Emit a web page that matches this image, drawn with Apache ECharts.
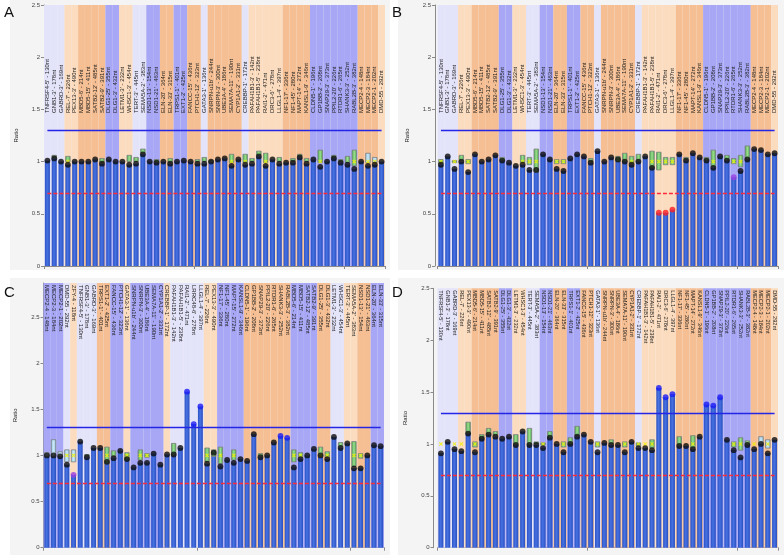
<!DOCTYPE html>
<html><head><meta charset="utf-8">
<script src="https://cdn.jsdelivr.net/npm/echarts@6/dist/echarts.min.js"></script>
<style>html,body{margin:0;padding:0;background:#fff}#c{width:784px;height:555px}</style>
</head><body><div id="c"></div>
<script>
// ---------- categories ----------
const LABELS_ABD = ["TNFRSF4-5' - 130nt","GNB1-3' - 178nt","GABRD-3' - 169nt","REL-7' - 226nt","PEX13-3' - 490nt","MBD5-6' - 214nt","MBD5-15' - 411nt","SATB2-12' - 485nt","SATB2-9' - 391nt","DLG1-25' - 355nt","DLG1-3' - 432nt","LETM1-3' - 232nt","WHSC1-3' - 454nt","TERT-3' - 445nt","SEMA5A-2' - 383nt","NSD1-13' - 154nt","NSD1-21' - 463nt","ELN-20' - 364nt","ELN-33' - 315nt","TRPS1-1' - 401nt","EXT1-2' - 425nt","FANCC-15' - 436nt","PTCH1-12' - 323nt","GATA3-1' - 136nt","SNRPN-u1b' - 244nt","SNRPN-3' - 300nt","UBE3A-4' - 186nt","SEMA7A-11' - 190nt","CYP1A1-2' - 331nt","CREBBP-1' - 172nt","PAFAH1B1-3' - 142nt","PAFAH1B1-5' - 238nt","RAI1-2' - 471nt","DRC3-6' - 278nt","LLGL1-4' - 397nt","NF1-17' - 336nt","NF1-45' - 280nt","MAPT-14' - 272nt","KANSL1-9' - 346nt","CLDN5-1' - 196nt","GP1BB-2' - 208nt","SNAP29-3' - 373nt","PPIL2-20' - 226nt","RTDR1-6' - 265nt","SHANK3-3' - 252nt","RABL2B-3' - 382nt","MECP2-4 - 148nt","MECP2-3 - 184nt","MECP2-1 - 202nt","DMD-55 - 292nt"];
const LABELS_C = ["MECP2-4 - 148nt","MECP2-3 - 184nt","MECP2-1 - 202nt","DMD-55 - 292nt","ZFY-4 - 118nt","TNFRSF4-5' - 130nt","GNB1-3' - 178nt","GABRD-3' - 169nt","TRPS1-1' - 401nt","EXT1-2' - 425nt","FANCC-15' - 436nt","PTCH1-12' - 323nt","GATA3-1' - 136nt","SNRPN-u1b' - 244nt","SNRPN-3' - 300nt","UBE3A-4' - 186nt","SEMA7A-11' - 190nt","CYP1A1-2' - 331nt","CREBBP-1' - 172nt","PAFAH1B1-3' - 142nt","PAFAH1B1-5' - 238nt","RAI1-2' - 471nt","LRRC48-6' - 278nt","LLGL1-4' - 397nt","REL-7' - 226nt","PEX13-3' - 490nt","NF1-17' - 336nt","NF1-45' - 280nt","MAPT-15' - 272nt","KANSL1-9' - 346nt","CLDN5-1' - 196nt","GP1BB-2' - 208nt","SNAP29-3' - 373nt","PPIL2-20' - 226nt","RTDR1-6' - 265nt","SHANK3-3' - 252nt","RABL2B-3' - 382nt","MBD5-6' - 214nt","MBD5-15' - 411nt","SATB2-12' - 485nt","SATB2-9' - 391nt","DLG1-25' - 355nt","DLG1-3' - 432nt","LETM1-3' - 232nt","WHSC1-3' - 454nt","TERT-3' - 445nt","SEMA5A-2' - 383nt","NSD1-13' - 154nt","NSD1-21' - 463nt","ELN-20' - 364nt","ELN-33' - 315nt"];
// band groups: l = lavender, q = light peach, p = peach, b = blue
const BANDS_ABD = ['l','l','l','q','q','p','p','p','p','b','b','q','q','l','l','b','b','p','p','b','b','p','p','l','p','p','p','p','p','l','q','q','q','q','q','p','p','p','p','b','b','b','b','b','b','b','p','p','p','q'];
const BANDS_C = ['b','b','b','l','q','l','l','l','p','p','b','b','q','b','b','b','b','b','q','l','l','l','l','l','q','q','b','b','b','b','p','p','p','p','p','p','p','b','b','b','b','p','p','l','l','q','q','p','p','b','b'];
const Y_TICKS = [0, 0.5, 1, 1.5, 2, 2.5];
const UPPER_LIMIT = 1.3, LOWER_LIMIT = 0.7;

// ---------- panel A ----------
const A_RATIO = [1.01,1.03,1.00,0.97,1.00,1.00,1.00,1.02,0.98,1.02, 1.00,1.00,0.97,0.98,1.07,1.00,0.99,1.00,0.98,1.00, 1.01,1.00,0.98,0.98,1.00,1.02,1.03,0.96,1.02,0.97, 0.98,1.05,0.96,1.02,0.98,0.99,0.99,1.04,0.98,1.02, 0.95,1.00,1.03,0.99,0.97,0.93,1.00,0.96,0.97,1.00];
const A_LO = [null,1.04,null,1.00,null,null,null,null,0.99,null, null,null,1.00,1.00,1.08,null,0.99,null,0.99,null, null,null,1.00,1.00,1.00,null,null,0.99,null,0.99, 1.00,1.06,0.99,null,1.00,null,1.00,1.05,1.00,null, 0.99,null,1.04,1.00,0.99,0.96,null,0.99,0.99,null];
const A_HI = [null,1.06,null,1.05,null,null,null,null,1.03,null, null,null,1.06,1.04,1.12,null,1.02,null,1.03,null, null,null,1.02,1.04,1.01,null,null,1.07,null,1.07, 1.03,1.10,1.08,null,1.04,null,1.03,1.07,1.03,null, 1.11,null,1.06,1.02,1.05,1.11,null,1.08,1.04,null];
const A_PALE = [47,48];
const A_X = [3,27,29,32,40,45,47,48];
const A_RED = [], A_BLUE = [], A_PURPLE = [];

// ---------- panel B ----------
const B_RATIO = [0.97,1.05,0.93,1.00,0.90,1.07,1.00,1.02,1.06,1.01, 0.99,0.96,0.97,0.92,0.92,1.07,1.02,0.93,0.91,1.03, 1.07,1.05,0.99,1.10,1.00,1.04,1.02,1.00,0.97,1.00, 1.05,0.94,0.51,0.51,0.54,1.07,1.01,1.08,1.04,1.01, 0.94,1.05,1.01,0.85,0.91,1.02,1.12,1.11,1.07,1.08];
const B_LO = [0.98,null,0.99,1.01,0.98,null,null,null,null,1.01, null,null,0.99,0.97,0.90,null,null,0.98,0.98,null, null,null,1.00,null,null,null,1.00,1.00,0.98,1.00, null,0.94,0.92,0.97,0.97,null,1.02,null,null,1.01, 0.95,null,1.01,0.98,0.95,1.02,null,null,null,null];
const B_HI = [1.02,null,1.01,1.06,1.02,null,null,null,null,1.04, null,null,1.06,1.04,1.12,null,null,1.02,1.02,null, null,null,1.03,null,null,null,1.05,1.08,1.05,1.07, null,1.10,1.09,1.04,1.04,null,1.04,null,null,1.04, 1.11,null,1.06,1.03,1.06,1.15,null,null,null,null];
const B_PALE = [];
const B_X = [0,2,4,12,13,14,17,18,28,31,32,33,34,40,43,44];
const B_RED = [32,33,34], B_BLUE = [], B_PURPLE = [43];

// ---------- panel C ----------
const C_RATIO = [1.00,1.00,0.99,0.90,0.79,1.15,0.98,1.08,1.08,0.93, 0.97,1.05,0.96,0.87,0.92,0.92,1.02,0.90,1.01,1.01, 1.08,1.69,1.34,1.53,0.91,1.03,0.88,0.95,0.92,0.96, 0.94,1.23,0.98,1.00,1.14,1.21,1.19,0.87,0.96,1.00, 1.07,1.00,0.96,1.20,1.08,1.13,0.86,0.86,1.00,1.11, 1.10];
const C_LO = [0.99,0.99,0.99,0.93,0.93,null,0.99,null,null,0.91, 0.99,null,0.95,null,0.95,0.98,null,null,null,1.00, null,null,null,null,0.93,0.99,0.91,null,0.95,null, null,null,0.99,null,null,null,null,0.93,0.98,null, null,0.99,0.98,null,1.09,null,0.88,0.97,null,null, null];
const C_HI = [1.03,1.17,1.04,1.06,1.06,null,1.01,null,null,1.09, 1.05,null,1.03,null,1.06,1.02,null,null,null,1.13, null,null,null,null,1.08,1.06,1.09,null,1.06,null, null,null,1.02,null,null,null,null,1.06,1.03,null, null,1.09,1.04,null,1.14,null,1.15,1.02,null,null, null];
const C_PALE = [0,1,2,3,4];
const C_X = [3,4,9,12,14,15,24,26,28,37,38,41,42,46,47];
const C_RED = [], C_BLUE = [21,22,23,35,36], C_PURPLE = [4];

// ---------- panel D ----------
const D_RATIO = [0.91,1.02,0.95,0.93,1.10,0.92,1.05,1.09,1.07,1.05, 1.07,0.99,1.12,0.99,0.99,0.96,1.06,1.00,0.92,1.00, 1.07,1.09,1.02,0.92,1.01,0.99,0.99,0.92,1.02,0.96, 0.96,0.94,1.54,1.45,1.48,0.98,0.98,0.95,1.07,1.38, 1.37,1.45,1.04,0.94,0.87,0.99,0.95,1.00,0.91,1.04];
const D_LO = [null,null,null,null,1.10,0.97,1.05,1.09,1.08,null, null,0.99,null,0.99,1.00,0.99,1.06,null,0.97,1.00, 1.08,null,null,0.97,null,1.00,null,0.97,null,0.98, null,0.96,null,null,null,0.98,null,0.96,null,null, null,null,null,0.97,0.94,0.99,null,1.00,0.96,null];
const D_HI = [null,null,null,null,1.21,1.02,1.09,1.15,1.12,null, null,1.09,null,1.15,1.02,1.01,1.12,null,1.02,1.06, 1.17,null,null,1.02,null,1.04,null,1.02,null,1.01, null,1.04,null,null,null,1.07,null,1.08,null,null, null,null,null,1.02,1.06,1.03,null,1.07,1.04,null];
const D_PALE = [47,48];
const D_X = [0,2,3,5,15,18,23,27,29,30,31,37,43,44,46,48];
const D_RED = [], D_BLUE = [32,33,34,39,40,41], D_PURPLE = [];

// ---------- styling ----------
const BAND_COL = {l:'#e3e3fa', q:'#fbdcbf', p:'#f5bf93', b:'#a7a7f6'};
const FONT = "'Liberation Sans', Arial, sans-serif";
const X_PATH = 'path://M0,2L2,0L5,3L8,0L10,2L7,5L10,8L8,10L5,7L2,10L0,8L3,5Z';

const PANELS = [
  {name:'A', labels:LABELS_ABD, bands:BANDS_ABD, ratio:A_RATIO, lo:A_LO, hi:A_HI, pale:A_PALE, xs:A_X, red:A_RED, blue:A_BLUE, purple:A_PURPLE,
   left:44, top:5, width:341, height:261, ymax:2.5, yOff:0, labelPos:'bottom', labelOff:-151, fs:6},
  {name:'B', labels:LABELS_ABD, bands:BANDS_ABD, ratio:B_RATIO, lo:B_LO, hi:B_HI, pale:B_PALE, xs:B_X, red:B_RED, blue:B_BLUE, purple:B_PURPLE,
   left:437.5, top:5, width:340.5, height:261, ymax:2.5, yOff:2.5, labelPos:'bottom', labelOff:-151, fs:6},
  {name:'C', labels:LABELS_C, bands:BANDS_C, ratio:C_RATIO, lo:C_LO, hi:C_HI, pale:C_PALE, xs:C_X, red:C_RED, blue:C_BLUE, purple:C_PURPLE,
   left:43.5, top:283, width:340.5, height:264.7, ymax:2.868, yOff:0, labelPos:'top', labelOff:0, fs:6},
  {name:'D', labels:LABELS_ABD, bands:BANDS_ABD, ratio:D_RATIO, lo:D_LO, hi:D_HI, pale:D_PALE, xs:D_X, red:D_RED, blue:D_BLUE, purple:D_PURPLE,
   left:437.5, top:288.3, width:340.5, height:259.4, ymax:2.5, yOff:4, labelPos:'top', labelOff:0, fs:5.6}
];

const option = {animation:false, grid:[], xAxis:[], yAxis:[], series:[], graphic:[]};

// panel backgrounds and letters
const PANEL_BG = [[10,0,380,270,'A',4,18],[398,0,386,270,'B',392,18],[10,278,380,277,'C',4,298],[398,278,386,277,'D',392,298]];
PANEL_BG.forEach(b => {
  option.graphic.push({type:'rect', z:-10, shape:{x:b[0], y:b[1], width:b[2], height:b[3]}, style:{fill:'#f4f4f4'}});
  option.graphic.push({type:'text', z:10, x:b[5], y:b[6]-13, style:{text:b[4], font:'15px ' + FONT, fill:'#111'}});
});

PANELS.forEach((P, g) => {
  option.grid.push({left:P.left, top:P.top, width:P.width, height:P.height, containLabel:false});
  const mainX = option.xAxis.length;
  option.xAxis.push({type:'category', gridIndex:g, data:P.labels, position:'bottom',
    axisLine:{lineStyle:{color:'#8a8a8a', width:1}}, axisTick:{show:true, length:3, lineStyle:{color:'#8a8a8a'}},
    axisLabel:{show:false}, splitLine:{show:false}});
  const labX = option.xAxis.length;
  option.xAxis.push({type:'category', gridIndex:g, data:P.labels, position:P.labelPos, offset:P.labelOff, z:10,
    axisLine:{show:false}, axisTick:{show:false}, splitLine:{show:false},
    axisLabel:{show:true, inside:true, rotate:90, interval:0, margin:2, fontSize:P.fs, color:'#222', fontFamily:FONT}});
  option.yAxis.push({type:'value', gridIndex:g, min:0, max:P.ymax, interval:0.5, offset:P.yOff,
    name:'Ratio', nameLocation:'middle', nameGap:25, nameTextStyle:{fontSize:6, color:'#222', fontFamily:FONT},
    axisLine:{show:true, lineStyle:{color:'#8a8a8a'}},
    axisTick:{show:true, length:3, customValues:Y_TICKS, lineStyle:{color:'#8a8a8a'}},
    axisLabel:{fontSize:6, color:'#444', margin:4, fontFamily:FONT, customValues:Y_TICKS},
    splitLine:{show:false}});
  const n = P.labels.length;
  // background bands
  option.series.push({type:'bar', xAxisIndex:labX, yAxisIndex:g, barWidth:'100%', barCategoryGap:'0%', silent:true, z:1,
    data:P.bands.map(t => ({value:P.ymax, itemStyle:{color:BAND_COL[t]}}))});
  // ratio bars (with upper threshold line)
  option.series.push({type:'bar', xAxisIndex:mainX, yAxisIndex:g, barWidth:'74%', silent:true, z:2,
    itemStyle:{color:{type:'linear', x:0, y:0, x2:1, y2:0, colorStops:[{offset:0,color:'#2d52c4'},{offset:0.45,color:'#4672e2'},{offset:1,color:'#2b4fbf'}]}},
    data:P.ratio,
    markLine:{silent:true, symbol:'none', label:{show:false}, z:6,
      lineStyle:{color:'#2525e6', width:1.3, type:'solid', opacity:1},
      emphasis:{disabled:true},
      data:[[{coord:[P.labels[0], UPPER_LIMIT]}, {coord:[P.labels[n-1], UPPER_LIMIT]}]]}});
  // lower threshold line
  option.series.push({type:'line', xAxisIndex:mainX, yAxisIndex:g, data:[], silent:true, z:6,
    itemStyle:{color:'#ff2a3a'}, lineStyle:{color:'#ff2a3a'},
    markLine:{silent:true, symbol:'none', label:{show:false}, z:6,
      lineStyle:{color:'#ff2a3a', width:1.4, type:[4,2], opacity:1},
      emphasis:{disabled:true},
      data:[[{coord:[P.labels[0], LOWER_LIMIT]}, {coord:[P.labels[n-1], LOWER_LIMIT]}]]}});
  // reference boxes
  const boxes = [];
  P.lo.forEach((lo, i) => { if (lo !== null && P.hi[i] !== null) boxes.push([i, lo, P.hi[i], P.pale.includes(i) ? 1 : 0]); });
  option.series.push({type:'custom', xAxisIndex:mainX, yAxisIndex:g, z:3, silent:true, data:boxes,
    encode:{x:0, y:[1,2]},
    renderItem:(params, api) => {
      const i = api.value(0), p1 = api.coord([i, api.value(2)]), p2 = api.coord([i, api.value(1)]);
      const w = api.size([1, 0])[0] * 0.66;
      const pale = api.value(3) === 1;
      const fill = pale ? {type:'linear', x:0, y:0, x2:1, y2:0, colorStops:[{offset:0,color:'#8fc6e6'},{offset:0.5,color:'#c9e6f5'},{offset:1,color:'#8fc6e6'}]}
                        : {type:'linear', x:0, y:0, x2:1, y2:0, colorStops:[{offset:0,color:'#37a844'},{offset:0.5,color:'#9fdc8e'},{offset:1,color:'#37a844'}]};
      return {type:'rect', shape:{x:p1[0]-w/2, y:p1[1], width:w, height:Math.max(1.5, p2[1]-p1[1])},
        style:{fill:fill, stroke:'#7d7d7d', lineWidth:0.8}};
    }});
  // yellow x markers at 1.0
  option.series.push({type:'scatter', xAxisIndex:mainX, yAxisIndex:g, z:5, silent:true, symbol:X_PATH, symbolSize:4,
    itemStyle:{color:'#f4f000'}, data:P.xs.map(i => [i, 1.0])});
  // sample dots
  option.series.push({type:'scatter', xAxisIndex:mainX, yAxisIndex:g, z:6, silent:true, symbolSize:5.8,
    data:P.ratio.map((v, i) => ({value:[i, v], itemStyle:{color: P.red.includes(i) ? '#ff1f1f' : P.blue.includes(i) ? '#1c1cf5' : P.purple.includes(i) ? '#9b3fe0' : '#0d0d0d'}}))});
});

const chart = echarts.init(document.getElementById('c'), null, {renderer:'canvas'});
chart.setOption(option);
</script>
</body></html>
